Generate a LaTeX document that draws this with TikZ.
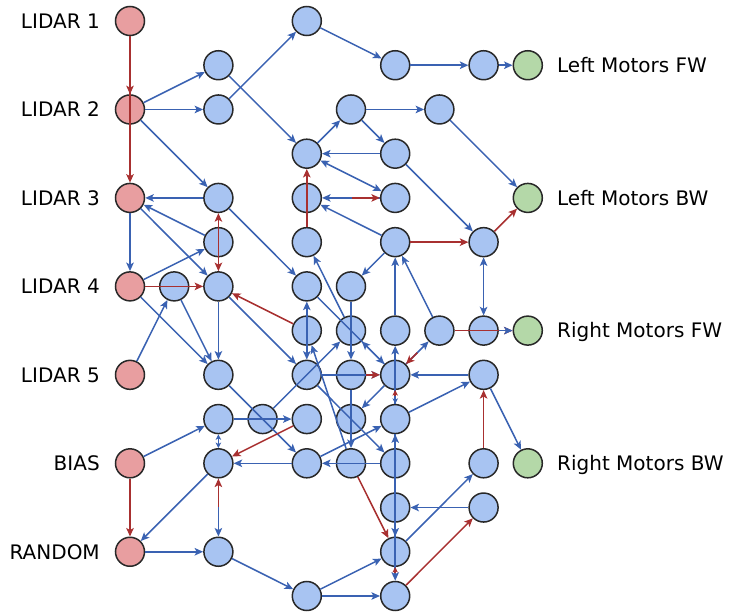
\documentclass[tikz,border=0pt]{standalone}
\usepackage{fontspec}
\setmainfont{DejaVu Sans}
\usetikzlibrary{arrows.meta}
\definecolor{hidfill}{RGB}{168,196,242}
\definecolor{infill}{RGB}{232,158,160}
\definecolor{outfill}{RGB}{180,216,168}
\definecolor{bedgec}{RGB}{58,98,178}
\definecolor{redgec}{RGB}{168,48,48}
\definecolor{ringc}{RGB}{40,40,40}
\tikzset{
  unit/.style={circle,draw=ringc,line width=1.5pt,minimum size=29pt,inner sep=0pt},
  hid/.style={unit,fill=hidfill},
  inp/.style={unit,fill=infill},
  outp/.style={unit,fill=outfill},
  lbl/.style={font=\fontsize{20}{24}\selectfont,text=black,inner sep=0pt,text height=14.6pt,text depth=0pt},
  be/.style={draw=bedgec,line width=1.5pt,->},
  re/.style={draw=redgec,line width=1.5pt,->},
  bb/.style={draw=bedgec,line width=1.5pt,<->},
  rb/.style={draw=redgec,line width=1.5pt,<->},
  tight/.style={>={Stealth[length=5.5pt,width=5.5pt,inset=1.5pt]}},
}
\begin{document}
\begin{tikzpicture}[x=44.2pt,y=-44.23pt,>={Stealth[length=8.5pt,width=7.5pt,inset=2pt]}]
\useasboundingbox (-130pt,21pt) rectangle (600pt,-592pt);

% input units
\node[inp] (L1) at (0,0) {};
\node[inp] (L2) at (0,2) {};
\node[inp] (L3) at (0,4) {};
\node[inp] (L4) at (0,6) {};
\node[inp] (L5) at (0,8) {};
\node[inp] (bias) at (0,10) {};
\node[inp] (rnd) at (0,12) {};

% output units
\node[outp] (lfw) at (9,1) {};
\node[outp] (lbw) at (9,4) {};
\node[outp] (rfw) at (9,7) {};
\node[outp] (rbw) at (9,10) {};

% hidden units
\node[hid] (E0) at (4,0) {};
\node[hid] (C1) at (2,1) {};
\node[hid] (G1) at (6,1) {};
\node[hid] (I1) at (8,1) {};
\node[hid] (C2) at (2,2) {};
\node[hid] (F2) at (5,2) {};
\node[hid] (H2) at (7,2) {};
\node[hid] (E3) at (4,3) {};
\node[hid] (G3) at (6,3) {};
\node[hid] (C4) at (2,4) {};
\node[hid] (E4) at (4,4) {};
\node[hid] (G4) at (6,4) {};
\node[hid] (C5) at (2,5) {};
\node[hid] (E5) at (4,5) {};
\node[hid] (G5) at (6,5) {};
\node[hid] (I5) at (8,5) {};
\node[hid] (B6) at (1,6) {};
\node[hid] (C6) at (2,6) {};
\node[hid] (E6) at (4,6) {};
\node[hid] (F6) at (5,6) {};
\node[hid] (E7) at (4,7) {};
\node[hid] (F7) at (5,7) {};
\node[hid] (G7) at (6,7) {};
\node[hid] (H7) at (7,7) {};
\node[hid] (I7) at (8,7) {};
\node[hid] (C8) at (2,8) {};
\node[hid] (E8) at (4,8) {};
\node[hid] (F8) at (5,8) {};
\node[hid] (G8) at (6,8) {};
\node[hid] (I8) at (8,8) {};
\node[hid] (C9) at (2,9) {};
\node[hid] (D9) at (3,9) {};
\node[hid] (E9) at (4,9) {};
\node[hid] (F9) at (5,9) {};
\node[hid] (G9) at (6,9) {};
\node[hid] (C10) at (2,10) {};
\node[hid] (E10) at (4,10) {};
\node[hid] (F10) at (5,10) {};
\node[hid] (G10) at (6,10) {};
\node[hid] (I10) at (8,10) {};
\node[hid] (G11) at (6,11) {};
\node[hid] (I11) at (8,11) {};
\node[hid] (C12) at (2,12) {};
\node[hid] (G12) at (6,12) {};
\node[hid] (E13) at (4,13) {};
\node[hid] (G13) at (6,13) {};

% labels
\node[lbl,anchor=east] (tL1) at (-0.68,0) {LIDAR 1};
\node[lbl,anchor=east] (tL2) at (-0.68,2) {LIDAR 2};
\node[lbl,anchor=east] (tL3) at (-0.68,4) {LIDAR 3};
\node[lbl,anchor=east] (tL4) at (-0.68,6) {LIDAR 4};
\node[lbl,anchor=east] (tL5) at (-0.68,8) {LIDAR 5};
\node[lbl,anchor=east] (tbias) at (-0.68,10) {BIAS};
\node[lbl,anchor=east] (trnd) at (-0.68,12) {RANDOM};
\node[lbl,anchor=west] (tlfw) at (9.66,1) {Left Motors FW};
\node[lbl,anchor=west] (tlbw) at (9.66,4) {Left Motors BW};
\node[lbl,anchor=west] (trfw) at (9.66,7) {Right Motors FW};
\node[lbl,anchor=west] (trbw) at (9.66,10) {Right Motors BW};

% long vertical connections first
\draw[be] (G9) -- (G13);
\draw[be] (G12) -- (G9);
\draw[be] (G10) -- (G12);
\draw[be] (G9) -- (G7);
\draw[bb] (E6) -- (E8);
\draw[be] (F6) -- (F8);
\draw[be] (F8) -- (F10);

% upper part
\draw[re] (L1) -- (L2);
\draw[re] (L1) -- (L3);
\draw[be] (L2) -- (C1);
\draw[be] (L2) -- (C2);
\draw[be] (L2) -- (C4);
\draw[be] (C2) -- (E0);
\draw[be] (C1) -- (E3);
\draw[be] (E0) -- (G1);
\draw[be] (G1) -- (I1);
\draw[be] (I1) -- (lfw);
\draw[be] (E3) -- (F2);
\draw[be] (F2) -- (H2);
\draw[be] (F2) -- (G3);
\draw[be] (G3) -- (E3);
\draw[be] (H2) -- (lbw);
\draw[bb] (E3) -- (G4);
\draw[be] (G4) -- (E4);
\draw[re,shorten <=30pt] (E4) -- (G4);
\draw[re] (E5) -- (E3);
\draw[be] (G5) -- (E4);
\draw[be] (G3) -- (I5);
\draw[re] (G5) -- (I5);
\draw[re] (I5) -- (lbw);
\draw[bb] (I5) -- (I7);
\draw[be] (G5) -- (F6);

% left block
\draw[be] (C4) -- (L3);
\draw[be] (C5) -- (L3);
\draw[be] (L3) -- (C6);
\draw[be] (L3) -- (L4);
\draw[be] (L4) -- (C5);
\draw[re] (L4) -- (C6);
\draw[rb] (C4) -- (C6);
\draw[be] (C4) -- (E6);
\draw[be] (L4) -- (C8);
\draw[be] (L5) -- (B6);
\draw[be] (B6) -- (C8);
\draw[be] (C6) -- (C8);
\draw[be] (C6) -- (E8);
\draw[re] (E7) -- (C6);
\draw[be] (C8) -- (E10);

% middle block
\draw[be] (D9) -- (F7);
\draw[be] (F7) -- (E5);
\draw[be] (E6) -- (G8);
\draw[be] (G8) -- (F7);
\draw[be] (F10) -- (E7);
\draw[be] (E8) -- (G8);
\draw[re] (F8) -- (G8);
\draw[be] (E8) -- (G10);
\draw[be] (G8) -- (F9);
\draw[be] (G7) -- (G5);
\draw[be] (H7) -- (G5);
\draw[re] (H7) -- (rfw);
\draw[be] (I7) -- (rfw);
\draw[be] (G8) -- (H7);
\draw[re,shorten <=16pt] (H7) -- (G8);
\draw[be] (I8) -- (G8);
\draw[be] (I8) -- (rbw);
\draw[re] (I10) -- (I8);
\draw[be] (G9) -- (I8);
\draw[be,tight] (G8) -- (G9);
\draw[re,tight,shorten <=7.5pt] (G9) -- (G8);

% lower part
\draw[be] (bias) -- (C9);
\draw[re] (bias) -- (rnd);
\draw[bb,tight] (C9) -- (C10);
\draw[be] (C10) -- (rnd);
\draw[be] (rnd) -- (C12);
\draw[be] (C10) -- (C12);
\draw[re,shorten <=30pt] (C12) -- (C10);
\draw[be] (C12) -- (E13);
\draw[be] (C9) -- (E9);
\draw[re] (E9) -- (C10);
\draw[be] (E10) -- (C10);
\draw[be] (G10) -- (E10);
\draw[be] (E10) -- (G9);
\draw[re] (F10) -- (G12);
\draw[be] (I11) -- (G11);
\draw[be] (G12) -- (I10);
\draw[be] (E13) -- (G12);
\draw[be] (E13) -- (G13);
\draw[re] (G13) -- (I11);
\draw[re,tight,shorten <=7.5pt] (G13) -- (G12);
\end{tikzpicture}
\end{document}
